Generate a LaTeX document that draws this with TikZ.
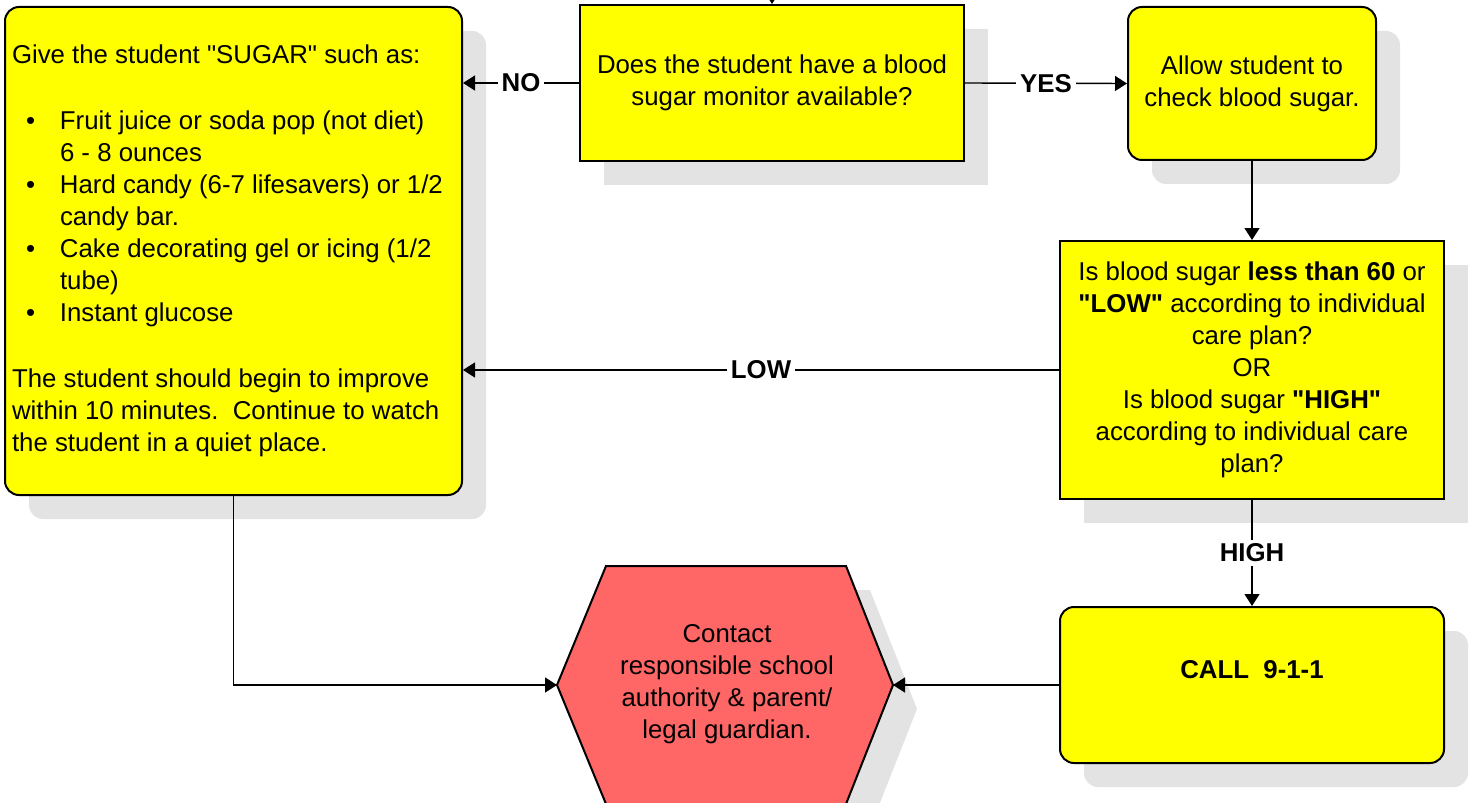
\documentclass[tikz,border=0pt]{standalone}
\usepackage{fontspec}
\setmainfont{Liberation Sans}[Ligatures=TeXOff]
\usetikzlibrary{arrows.meta,shadows}
\definecolor{boxyellow}{RGB}{255,255,0}
\definecolor{hexred}{RGB}{255,102,102}
\definecolor{shadowgray}{RGB}{227,227,227}
\newcommand{\bul}{\makebox[24pt][l]{\hspace{7pt}\textbullet}}
\newcommand{\ind}{\hspace*{24pt}}
\begin{document}
\begin{tikzpicture}[x = 0.5pt, y = -0.5pt, line width = 0.7pt,
                        every node/.style = {font = \fontsize{12.9}{16}\selectfont},
                        sqbox/.style = {draw, line width = 1pt, fill = boxyellow, align = center, inner sep = 3.5pt,
                                        drop shadow = {shadow xshift = 12pt, shadow yshift = -12pt, fill = shadowgray, opacity = 1}},
                        rndbox/.style = {sqbox, rounded corners = 7pt},
                        lbl/.style = {fill = white, inner sep = 2pt, font = \fontsize{12.9}{16}\selectfont\bfseries},
                        arr/.style = {-{Triangle[length = 6pt, width = 7.5pt]}}]
      \useasboundingbox (0, 0) rectangle (1470, 802);
      \node [sqbox, minimum width = 192pt, minimum height = 78pt] (monitor) at (772, 83)
            {Does the student have a blood\\ sugar monitor available?};
      \node [rndbox, minimum width = 228.5pt, minimum height = 244pt, align = left] (sugar) at (233.5, 251)
            {\makebox[221.5pt][l]{Give the student "SUGAR" such as:}\\[17pt]
             \bul Fruit juice or soda pop (not diet)\\
             \ind 6 - 8 ounces\\
             \bul Hard candy (6-7 lifesavers) or 1/2\\
             \ind candy bar.\\
             \bul Cake decorating gel or icing (1/2\\
             \ind tube)\\
             \bul Instant glucose\\[17pt]
             The student should begin to improve\\
             within 10 minutes.\ \ Continue to watch\\
             the student in a quiet place.};
      \node [rndbox, minimum width = 124pt, minimum height = 76.5pt] (check) at (1252, 83.5)
            {Allow student to\\ check blood sugar.};
      \node [sqbox, minimum width = 192pt, minimum height = 129pt] (level) at (1252, 370)
            {Is blood sugar \textbf{less than 60} or\\ \textbf{"LOW"} according to individual\\ care plan?\\ OR\\
             Is blood sugar \textbf{"HIGH"}\\ according to individual care\\ plan?};
      \node [rndbox, minimum width = 192pt, minimum height = 78pt] (call) at (1252, 685)
            {\textbf{CALL\ \ 9-1-1}\\ ~};
      % hexagon
      \fill [shadowgray, shift = {(24, 24)}] (557, 685) -- (606, 566) -- (846, 566) -- (893, 685) -- (846, 804) -- (606, 804) -- cycle;
      \draw [fill = hexred, line width = 1pt] (557, 685) -- (606, 566) -- (846, 566) -- (893, 685) -- (846, 804) -- (606, 804) -- cycle;
      \coordinate (hexW) at (557, 685);
      \coordinate (hexE) at (893, 685);
      \node [align = center] (contact) at (727, 684) {Contact\\ responsible school\\ authority \& parent/\\ legal guardian.};
      \coordinate (start) at (772, -30);
      \draw [arr] (start) -- (monitor.north);
      \draw [arr] (monitor.west) -- node [lbl] {NO} (monitor.west -| sugar.east);
      \draw [arr] (monitor.east) -- node [lbl] {YES} (check.west);
      \draw [arr] (check.south) -- (level.north);
      \draw [arr] (level.west) -- node [lbl] {LOW} (level.west -| sugar.east);
      \draw [arr] (level.south) -- node [lbl] {HIGH} (call.north);
      \draw [arr] (call.west) -- (hexE);
      \draw [arr] (sugar.south) |- (hexW);
    \end{tikzpicture}
\end{document}
